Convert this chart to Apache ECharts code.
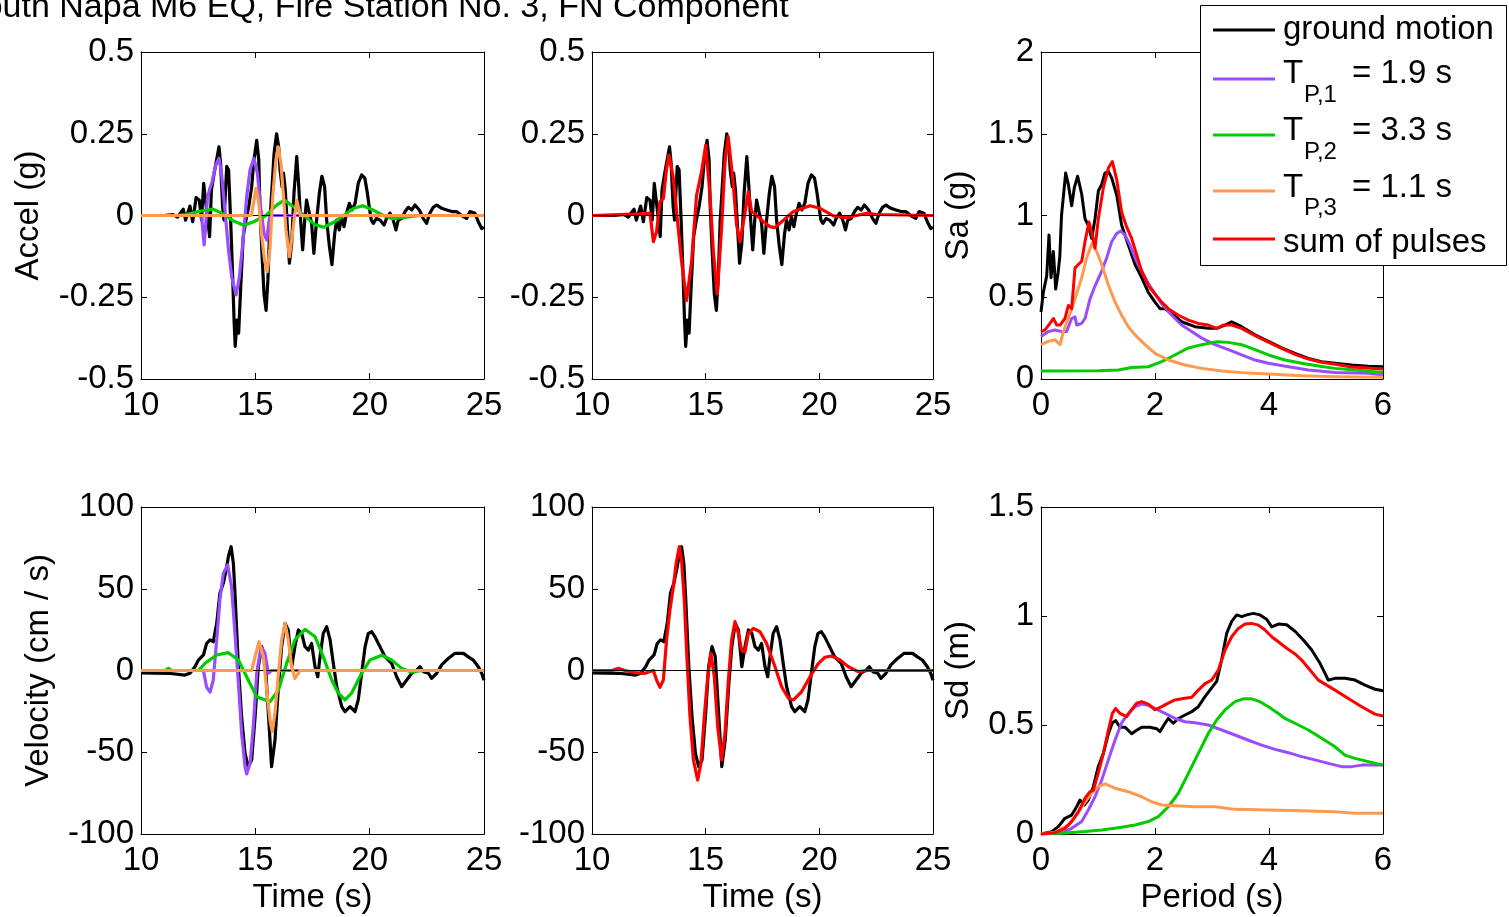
<!DOCTYPE html>
<html><head><meta charset="utf-8">
<script src="https://cdn.jsdelivr.net/npm/echarts@6/dist/echarts.min.js"></script>
<style>html,body{margin:0;padding:0;background:#fff;overflow:hidden}#c{width:1509px;height:917px}</style>
</head><body><div id="c"></div>
<script>
// ---------- axis ranges [min, max, interval] ----------
const timeRange = [10, 25, 5];
const periodRange = [0, 6, 2];
const accRange = [-0.5, 0.5, 0.25];
const velRange = [-100, 100, 50];
const saRange = [0, 2, 0.5];
const sdRange = [0, 1.5, 0.5];

// ---------- legend / names ----------
const seriesNames = ['ground motion', 'T_P,1 = 1.9 s', 'T_P,2 = 3.3 s', 'T_P,3 = 1.1 s', 'sum of pulses'];
const pulsePeriods = ['1.9', '3.3', '1.1'];

// ---------- acceleration (g) ----------
const accGroundT = [10,11,11.4,11.6,11.75,11.85,11.95,12.14,12.26,12.41,12.55,12.65,12.74,12.94,13.0,13.08,13.2,13.41,13.48,13.57,13.63,13.75,13.83,13.92,14.0,14.07,14.12,14.2,14.27,14.36,14.47,14.59,14.71,14.84,14.94,15.06,15.15,15.2,15.29,15.38,15.47,15.55,15.64,15.73,15.82,15.93,16.02,16.08,16.17,16.23,16.31,16.4,16.49,16.59,16.69,16.81,16.9,16.98,17.07,17.16,17.24,17.36,17.46,17.56,17.68,17.8,17.91,18.03,18.12,18.24,18.35,18.47,18.56,18.67,18.77,18.88,18.99,19.11,19.23,19.36,19.5,19.65,19.79,19.9,19.98,20.07,20.16,20.3,20.45,20.63,20.74,20.89,21.03,21.15,21.25,21.4,21.55,21.69,21.84,21.98,22.17,22.34,22.49,22.63,22.78,22.93,23.15,23.37,23.6,23.8,24.02,24.24,24.39,24.6,24.75,24.9,25];
const accGroundV = [0,0,0.003,-0.005,0.01,0.019,-0.014,0.029,-0.019,0.055,0.047,-0.014,0.098,-0.024,-0.065,0.078,0.13,0.21,0.16,0.027,-0.014,0.15,0.14,-0.014,-0.167,-0.32,-0.40,-0.32,-0.36,-0.22,-0.065,-0.014,0.027,0.088,0.17,0.23,0.17,0.027,-0.116,-0.24,-0.29,-0.197,-0.014,0.088,0.19,0.25,0.21,0.14,0.088,0.13,0.078,-0.034,-0.146,-0.085,0.068,0.18,0.088,-0.014,-0.105,-0.014,0.047,0.007,-0.024,-0.116,-0.014,0.068,0.12,0.088,-0.014,-0.095,-0.15,-0.055,-0.014,-0.044,-0.004,-0.034,0.007,0.037,0.017,0.037,0.098,0.124,0.114,0.068,0.027,-0.014,-0.024,-0.009,-0.014,-0.029,-0.009,0.007,-0.014,-0.044,-0.014,-0.009,0.012,0.025,0.017,0.032,0.017,-0.009,-0.024,0.007,0.025,0.032,0.022,0.017,0.012,0.012,0,-0.009,0.012,0.007,-0.019,-0.04,-0.035];
const accP1T = [10,12.65,12.72,12.76,12.82,12.9,13.0,13.1,13.25,13.41,13.52,13.67,13.82,13.97,14.16,14.3,14.45,14.62,14.77,14.94,15.09,15.23,15.38,15.5,15.6,15.67,25];
const accP1V = [0,0,-0.06,-0.09,-0.04,0.05,0.08,0.1,0.15,0.175,0.13,0.017,-0.1,-0.19,-0.243,-0.19,-0.085,0.057,0.14,0.175,0.13,0.027,-0.055,-0.075,-0.015,0,0];
const accP2T = [10,11.5,12.0,12.5,13.13,13.6,14.0,14.5,14.9,15.47,15.9,16.27,16.7,17.14,17.6,18.0,18.45,18.85,19.3,19.7,20.2,20.6,21.0,21.5,22.2,25];
const accP2V = [0,0,0.003,0.012,0.02,0.005,-0.015,-0.03,-0.02,0,0.03,0.047,0.025,0,-0.028,-0.036,-0.02,0,0.022,0.03,0.015,0,-0.01,-0.006,0,0];
const accP3T = [10,14.82,14.9,15.03,15.15,15.27,15.4,15.52,15.64,15.76,15.9,16.0,16.12,16.22,16.34,16.49,16.6,16.7,16.81,16.9,16.97,25];
const accP3V = [0,0,0.03,0.083,0.04,-0.055,-0.136,-0.172,-0.1,0.057,0.17,0.21,0.16,0.068,-0.044,-0.126,-0.07,-0.01,0.047,0.02,0,0];
const accSumT = [10,12.11,12.55,12.7,12.84,12.99,13.14,13.28,13.39,13.58,13.75,13.94,14.16,14.38,14.6,14.82,15.0,15.19,15.34,15.51,15.7,15.85,15.99,16.19,16.36,16.51,16.69,16.88,17.02,17.24,17.54,17.83,18.05,18.86,19.59,20.03,20.62,21.2,22.08,22.52,25];
const accSumV = [0,0.005,0.007,-0.08,-0.05,0.042,0.052,0.144,0.185,0.114,-0.009,-0.141,-0.26,-0.141,0.062,0.134,0.215,0.062,-0.111,-0.24,-0.039,0.164,0.241,0.114,-0.029,-0.08,-0.009,0.073,0.012,0.001,-0.019,-0.034,-0.037,0.012,0.03,0.022,-0.001,-0.007,0.007,0.003,0];

// ---------- velocity (cm/s) ----------
const velGroundT = [10,11.2,11.92,12.14,12.36,12.51,12.73,12.87,13.02,13.16,13.31,13.45,13.6,13.75,13.82,13.94,14.04,14.11,14.26,14.4,14.55,14.69,14.84,14.99,15.13,15.28,15.42,15.57,15.71,15.86,16.01,16.15,16.3,16.44,16.59,16.73,16.88,17.03,17.17,17.32,17.46,17.61,17.73,17.83,17.97,18.12,18.27,18.41,18.56,18.78,18.92,19.14,19.36,19.5,19.65,19.8,19.94,20.09,20.23,20.45,20.67,20.96,21.18,21.4,21.62,21.84,22.06,22.2,22.35,22.57,22.71,22.93,23.15,23.44,23.73,24.1,24.3,24.53,24.75,24.9,25];
const velGroundV = [-1.5,-1.7,-2.8,-1.7,2.3,6.4,9.5,16.6,18.7,17.6,28.8,47.2,53.3,63.5,69.6,75.7,65.5,47.2,2.3,-28.2,-50.7,-58.8,-54.7,-28.2,2.3,14.6,8.5,-26.2,-58.8,-42.5,-9.9,14.6,28.8,24.8,2.3,14.6,24.8,22.7,14.6,12.5,16.6,2.3,-3.8,8.5,22.7,26.8,18.7,4.4,-9.9,-22.1,-25.2,-22.1,-25.2,-18,-1.7,14.6,22.7,23.7,20.7,14.6,8.5,4.4,-3.8,-9.9,-5.8,-1.7,0.3,2.3,-0.7,-1.7,-4.8,-1.7,3.4,7.4,10.5,10.5,8.5,6.4,2.3,-1.7,-6];
const velP1T = [10,12.73,12.87,13.02,13.16,13.31,13.45,13.6,13.79,13.96,14.11,14.26,14.4,14.55,14.62,14.77,14.91,15.06,15.25,15.42,15.57,15.71,25];
const velP1V = [0,0,-10.2,-13.2,-5.8,18.7,43.1,59.4,64.5,51.3,22.7,-7.8,-38.4,-58.8,-63.3,-56.8,-34.4,-1.7,14.6,10.5,-1.7,0,0];
const velP2T = [10,11.05,11.2,11.35,12.51,12.8,13.31,13.82,14.26,14.69,15.06,15.64,16.01,16.37,16.73,17.17,17.61,17.97,18.34,18.63,18.92,19.21,19.65,20.01,20.53,20.96,21.4,21.84,22.27,25];
const velP2V = [0,0,1.3,0,0,4.4,9.5,10.9,6.4,-5.8,-16,-19.1,-12,4.4,18.7,25.2,20.7,8.5,-5.8,-13.9,-18,-13.9,-1.7,6.4,9.3,6.4,1.3,-1.1,0,0];
const velP3T = [10,14.84,14.99,15.16,15.35,15.5,15.64,15.74,15.86,16.01,16.15,16.3,16.44,16.59,16.73,16.88,16.95,25];
const velP3V = [0,0,8.5,17.6,8.5,-11.9,-30.3,-37.4,-26.2,-1.7,18.7,28.8,18.7,2.3,-4.8,-1.7,0,0];
const velSumT = [10,10.87,11.16,11.45,11.89,12.33,12.7,12.84,12.99,13.14,13.28,13.43,13.58,13.7,13.84,13.94,14.06,14.16,14.31,14.46,14.65,14.79,14.94,15.09,15.23,15.38,15.53,15.7,15.85,15.99,16.14,16.29,16.44,16.58,16.73,16.88,17.1,17.39,17.68,18.05,18.34,18.64,18.86,19.22,19.59,19.96,20.25,20.54,20.91,21.28,21.71,22.15,25];
const velSumV = [0,0,1.3,0,-1.3,-1.7,0,-5.8,-10.3,-5.8,18.7,37.2,51.3,65.5,75.7,67.6,43.1,12.5,-28.2,-54.7,-67,-56.8,-28.2,-3.8,10.5,-3.8,-34.4,-54.7,-38.4,-7.8,18.7,29.9,22.7,12.5,11.5,22.7,25.8,23.7,16.6,2.3,-9.9,-17,-18,-13,-3.8,4.4,8.1,8.9,6.4,2.3,-0.7,0,0];

// ---------- pseudo-acceleration spectra Sa (g) ----------
const saGroundT = [0,0.041,0.1,0.14,0.176,0.217,0.258,0.3,0.33,0.36,0.433,0.48,0.538,0.585,0.643,0.714,0.772,0.83,0.889,0.948,1.006,1.065,1.123,1.182,1.24,1.328,1.415,1.532,1.65,1.766,1.883,2.0,2.088,2.176,2.293,2.468,2.702,2.936,3.082,3.228,3.345,3.52,3.755,3.99,4.222,4.456,4.69,4.924,5.158,5.45,5.743,6.0];
const saGroundV = [0.41,0.53,0.63,0.88,0.62,0.78,0.55,0.65,0.75,1.0,1.26,1.19,1.06,1.17,1.24,1.13,0.98,0.94,0.86,0.98,1.15,1.19,1.26,1.27,1.23,1.125,0.94,0.82,0.70,0.62,0.53,0.47,0.43,0.43,0.40,0.35,0.32,0.31,0.31,0.33,0.35,0.32,0.27,0.23,0.19,0.157,0.126,0.106,0.096,0.085,0.078,0.075];
const saP1T = [0,0.129,0.246,0.363,0.45,0.538,0.597,0.626,0.714,0.772,0.86,0.948,1.065,1.152,1.24,1.328,1.398,1.474,1.562,1.65,1.766,1.883,2.0,2.117,2.293,2.468,2.644,2.82,3.053,3.287,3.52,3.755,3.99,4.34,4.69,5.158,5.743,6.0];
const saP1V = [0.26,0.29,0.30,0.29,0.29,0.37,0.38,0.33,0.34,0.37,0.49,0.57,0.66,0.74,0.84,0.89,0.905,0.88,0.82,0.74,0.66,0.585,0.52,0.46,0.39,0.33,0.29,0.25,0.21,0.18,0.147,0.116,0.096,0.075,0.055,0.04,0.035,0.024];
const saP2T = [0,1.0,1.357,1.59,1.883,2.117,2.35,2.585,2.82,3.082,3.287,3.52,3.755,3.99,4.28,4.573,4.866,5.158,5.51,6.0];
const saP2V = [0.049,0.05,0.055,0.07,0.075,0.106,0.147,0.19,0.21,0.228,0.224,0.21,0.18,0.147,0.116,0.096,0.08,0.065,0.055,0.04];
const saP3T = [0,0.129,0.246,0.334,0.392,0.48,0.597,0.714,0.8,0.9,0.977,1.065,1.182,1.3,1.415,1.532,1.65,1.825,2.0,2.234,2.527,2.82,3.17,3.52,3.99,4.573,5.158,6.0];
const saP3V = [0.21,0.23,0.24,0.21,0.29,0.37,0.49,0.62,0.74,0.835,0.78,0.70,0.575,0.47,0.39,0.32,0.27,0.21,0.157,0.116,0.086,0.065,0.049,0.039,0.03,0.02,0.014,0.01];
const saSumT = [0,0.07,0.158,0.217,0.275,0.334,0.42,0.48,0.538,0.597,0.655,0.714,0.772,0.842,0.9,0.948,1.006,1.094,1.182,1.252,1.328,1.415,1.503,1.59,1.678,1.766,1.883,2.0,2.117,2.234,2.41,2.585,2.76,2.936,3.082,3.2,3.345,3.52,3.755,3.99,4.222,4.456,4.69,4.924,5.158,5.45,6.0];
const saSumV = [0.29,0.30,0.34,0.37,0.33,0.33,0.37,0.45,0.43,0.68,0.70,0.72,0.84,0.96,0.88,0.80,0.98,1.17,1.29,1.33,1.22,1.02,0.93,0.86,0.76,0.66,0.57,0.52,0.47,0.43,0.39,0.36,0.34,0.33,0.31,0.33,0.33,0.31,0.265,0.225,0.188,0.151,0.122,0.102,0.09,0.073,0.061];

// ---------- displacement spectra Sd (m) ----------
const sdGroundT = [0,0.187,0.304,0.42,0.538,0.626,0.684,0.76,0.83,0.918,1.006,1.094,1.182,1.252,1.31,1.386,1.474,1.59,1.678,1.766,1.912,2.029,2.088,2.176,2.234,2.322,2.41,2.527,2.644,2.76,2.877,2.994,3.082,3.17,3.257,3.345,3.433,3.52,3.608,3.725,3.842,3.959,4.047,4.164,4.31,4.456,4.602,4.75,4.895,4.983,5.041,5.158,5.333,5.509,5.684,5.86,6.0];
const sdGroundV = [0,0.011,0.034,0.072,0.087,0.125,0.156,0.133,0.156,0.217,0.31,0.37,0.46,0.51,0.52,0.49,0.49,0.46,0.476,0.49,0.49,0.483,0.47,0.508,0.53,0.508,0.53,0.546,0.561,0.584,0.63,0.67,0.70,0.80,0.92,0.975,1.005,0.997,1.005,1.012,1.005,0.985,0.95,0.963,0.96,0.93,0.89,0.844,0.783,0.737,0.706,0.714,0.714,0.706,0.683,0.664,0.657];
const sdP1T = [0,0.363,0.538,0.714,0.83,0.948,1.065,1.182,1.298,1.415,1.532,1.65,1.766,1.883,2.0,2.176,2.35,2.527,2.702,2.936,3.17,3.404,3.638,3.872,4.105,4.34,4.573,4.807,5.041,5.275,5.45,5.626,6.0];
const sdP1V = [0,0.005,0.026,0.057,0.11,0.171,0.248,0.34,0.43,0.51,0.553,0.584,0.596,0.59,0.576,0.553,0.53,0.515,0.51,0.50,0.477,0.454,0.43,0.408,0.388,0.373,0.355,0.34,0.324,0.309,0.309,0.316,0.316];
const sdP2T = [0,0.48,0.772,1.065,1.357,1.65,1.883,2.058,2.234,2.41,2.585,2.76,2.936,3.082,3.228,3.404,3.55,3.696,3.842,3.99,4.164,4.28,4.456,4.69,4.924,5.158,5.333,5.509,5.743,6.0];
const sdP2V = [0,0.006,0.011,0.018,0.029,0.041,0.057,0.08,0.125,0.187,0.278,0.37,0.462,0.523,0.569,0.607,0.62,0.62,0.607,0.584,0.553,0.53,0.508,0.477,0.439,0.40,0.362,0.347,0.332,0.316];
const sdP3T = [0,0.246,0.48,0.714,0.889,1.006,1.123,1.298,1.532,1.766,1.942,2.117,2.35,2.702,3.053,3.404,3.99,4.573,5.158,5.509,6.0];
const sdP3V = [0,0.008,0.041,0.125,0.187,0.217,0.23,0.21,0.194,0.171,0.148,0.133,0.13,0.125,0.125,0.113,0.11,0.107,0.102,0.095,0.095];
const sdSumT = [0,0.246,0.421,0.538,0.655,0.772,0.86,0.918,1.006,1.094,1.182,1.252,1.31,1.386,1.503,1.59,1.678,1.766,1.883,2.0,2.117,2.234,2.35,2.497,2.644,2.76,2.877,2.994,3.111,3.228,3.345,3.462,3.58,3.696,3.813,3.93,4.047,4.164,4.31,4.456,4.573,4.72,4.866,5.012,5.158,5.392,5.626,5.86,6.0];
const sdSumV = [0,0.006,0.026,0.057,0.10,0.164,0.194,0.2,0.28,0.37,0.477,0.553,0.576,0.553,0.538,0.57,0.60,0.607,0.596,0.57,0.584,0.60,0.615,0.622,0.627,0.66,0.69,0.706,0.752,0.844,0.905,0.943,0.963,0.966,0.958,0.936,0.905,0.882,0.852,0.826,0.798,0.752,0.706,0.683,0.66,0.622,0.584,0.55,0.541];

// ---------- build ----------
const FONT = '"Liberation Sans", Arial, Helvetica, sans-serif';
const COL = { ground: '#000000', p1: '#994dff', p2: '#00cc00', p3: '#ff994d', sum: '#ff0000' };
const FS = 33;

function pairs(t, v) { const n = Math.min(t.length, v.length); const out = []; for (let i = 0; i < n; i++) out.push([t[i], v[i]]); return out; }

const grids = [
  { left: 141, top: 52, width: 343, height: 327 },
  { left: 592, top: 52, width: 341, height: 327 },
  { left: 1041, top: 52, width: 342, height: 327 },
  { left: 141, top: 507, width: 343, height: 327 },
  { left: 592, top: 507, width: 341, height: 327 },
  { left: 1041, top: 507, width: 342, height: 327 }
];

const xAxes = [], yAxes = [];
function axisCommon(gi, r) {
  return {
    type: 'value', gridIndex: gi, min: r[0], max: r[1], interval: r[2],
    splitLine: { show: false },
    axisLine: { show: true, onZero: false, lineStyle: { color: '#000', width: 1 } },
    axisTick: { show: true, inside: true, length: 6, lineStyle: { color: '#000', width: 1 } }
  };
}
function addAxes(gi, xr, yr, xName, yName, yGap) {
  xAxes.push(Object.assign(axisCommon(gi, xr), {
    position: 'bottom',
    axisLabel: { show: true, color: '#000', fontSize: FS, fontFamily: FONT, margin: 10 },
    name: xName, nameLocation: 'middle', nameGap: 47,
    nameTextStyle: { color: '#000', fontSize: FS, fontFamily: FONT }
  }));
  xAxes.push(Object.assign(axisCommon(gi, xr), { position: 'top', axisLabel: { show: false } }));
  yAxes.push(Object.assign(axisCommon(gi, yr), {
    position: 'left',
    axisLabel: { show: true, color: '#000', fontSize: FS, fontFamily: FONT, margin: 7 },
    name: yName, nameLocation: 'middle', nameGap: yGap,
    nameTextStyle: { color: '#000', fontSize: FS, fontFamily: FONT }
  }));
  yAxes.push(Object.assign(axisCommon(gi, yr), { position: 'right', axisLabel: { show: false } }));
}
addAxes(0, timeRange, accRange, '', 'Accel (g)', 96);
addAxes(1, timeRange, accRange, '', '', 60);
addAxes(2, periodRange, saRange, '', 'Sa (g)', 66);
addAxes(3, timeRange, velRange, 'Time (s)', 'Velocity (cm / s)', 86);
addAxes(4, timeRange, velRange, 'Time (s)', '', 60);
addAxes(5, periodRange, sdRange, 'Period (s)', 'Sd (m)', 66);

const series = [];
function line(name, gi, t, v, color, z, width, zeroLine) {
  const s = {
    type: 'line', name: name, xAxisIndex: gi * 2, yAxisIndex: gi * 2,
    data: pairs(t, v), symbol: 'none', showSymbol: false, smooth: false,
    lineStyle: { color: color, width: width, join: 'round' }, itemStyle: { color: color },
    z: z, silent: true, clip: true, animation: false
  };
  if (zeroLine) {
    s.markLine = { silent: true, symbol: ['none', 'none'], label: { show: false },
      lineStyle: { color: '#000', width: 1, type: 'solid' }, data: [{ yAxis: 0 }], animation: false };
  }
  series.push(s);
}
const W = 3.2, WS = 3.0;
// top-left: acceleration with individual pulses
line(seriesNames[0], 0, accGroundT, accGroundV, COL.ground, 2, W, true);
line(seriesNames[1], 0, accP1T, accP1V, COL.p1, 3, W);
line(seriesNames[2], 0, accP2T, accP2V, COL.p2, 4, W);
line(seriesNames[3], 0, accP3T, accP3V, COL.p3, 5, W);
// top-middle: acceleration with sum
line(seriesNames[0], 1, accGroundT, accGroundV, COL.ground, 2, W, true);
line(seriesNames[4], 1, accSumT, accSumV, COL.sum, 3, W);
// top-right: Sa
line(seriesNames[0], 2, saGroundT, saGroundV, COL.ground, 2, WS);
line(seriesNames[1], 2, saP1T, saP1V, COL.p1, 3, WS);
line(seriesNames[2], 2, saP2T, saP2V, COL.p2, 4, WS);
line(seriesNames[3], 2, saP3T, saP3V, COL.p3, 5, WS);
line(seriesNames[4], 2, saSumT, saSumV, COL.sum, 6, WS);
// bottom-left: velocity with pulses
line(seriesNames[0], 3, velGroundT, velGroundV, COL.ground, 2, W, true);
line(seriesNames[1], 3, velP1T, velP1V, COL.p1, 3, W);
line(seriesNames[2], 3, velP2T, velP2V, COL.p2, 4, W);
line(seriesNames[3], 3, velP3T, velP3V, COL.p3, 5, W);
// bottom-middle: velocity with sum
line(seriesNames[0], 4, velGroundT, velGroundV, COL.ground, 2, W, true);
line(seriesNames[4], 4, velSumT, velSumV, COL.sum, 3, W);
// bottom-right: Sd
line(seriesNames[0], 5, sdGroundT, sdGroundV, COL.ground, 2, WS);
line(seriesNames[1], 5, sdP1T, sdP1V, COL.p1, 3, WS);
line(seriesNames[2], 5, sdP2T, sdP2V, COL.p2, 4, WS);
line(seriesNames[3], 5, sdP3T, sdP3V, COL.p3, 5, WS);
line(seriesNames[4], 5, sdSumT, sdSumV, COL.sum, 6, WS);

// ---------- legend (drawn as graphic for MATLAB-style subscripts) ----------
const legendColors = [COL.ground, COL.p1, COL.p2, COL.p3, COL.sum];
const legendLineY = [30, 79, 135, 191, 239];
const legendTextY = [30, 74, 131, 187.5, 243];
const graphics = [];
graphics.push({ type: 'rect', z: 100, shape: { x: 1200.5, y: 5.5, width: 306, height: 260 },
  style: { fill: '#fff', stroke: '#000', lineWidth: 1 } });
for (let i = 0; i < 5; i++) {
  graphics.push({ type: 'line', z: 101, shape: { x1: 1213, y1: legendLineY[i], x2: 1275, y2: legendLineY[i] },
    style: { stroke: legendColors[i], lineWidth: 2.8 } });
  if (i === 0 || i === 4) {
    graphics.push({ type: 'text', z: 101, x: 1283, y: legendTextY[i],
      style: { text: seriesNames[i], font: '33px ' + FONT, fill: '#000', verticalAlign: 'middle', align: 'left' } });
  } else {
    graphics.push({ type: 'text', z: 101, x: 1283, y: legendTextY[i],
      style: { text: 'T', font: '33px ' + FONT, fill: '#000', verticalAlign: 'middle', align: 'left' } });
    graphics.push({ type: 'text', z: 101, x: 1304, y: legendTextY[i] + 21,
      style: { text: 'P,' + i, font: '24px ' + FONT, fill: '#000', verticalAlign: 'middle', align: 'left' } });
    graphics.push({ type: 'text', z: 101, x: 1352, y: legendTextY[i],
      style: { text: '= ' + pulsePeriods[i - 1] + ' s', font: '33px ' + FONT, fill: '#000', verticalAlign: 'middle', align: 'left' } });
  }
}
// title (clipped at the left edge as in the figure)
graphics.push({ type: 'text', z: 101, x: -39, y: 8,
  style: { text: 'South Napa M6 EQ, Fire Station No. 3, FN Component', font: '34px ' + FONT, fill: '#000', verticalAlign: 'middle', align: 'left' } });

const chart = echarts.init(document.getElementById('c'), null, { renderer: 'canvas' });
chart.setOption({
  backgroundColor: '#fff',
  animation: false,
  grid: grids.map(g => Object.assign({ containLabel: false, show: false }, g)),
  xAxis: xAxes,
  yAxis: yAxes,
  series: series,
  graphic: graphics
});
</script></body></html>
